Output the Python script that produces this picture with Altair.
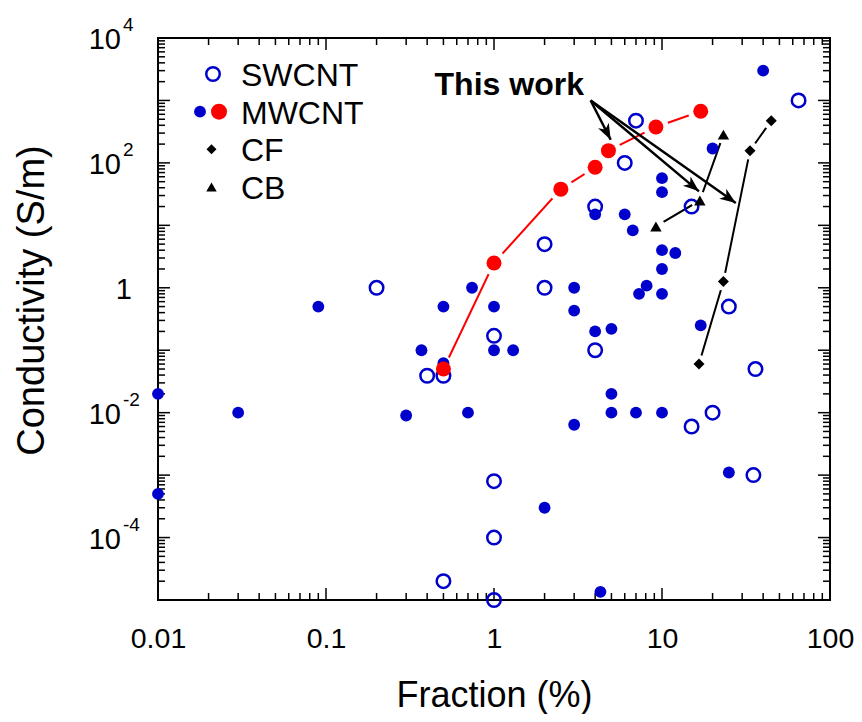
import math
import altair as alt
import pandas as pd

FONT = "Liberation Sans"
BLUE = "#0000cc"
RED = "#ff0000"

# ---------------- data ----------------
sw_x = [0.2, 0.4, 0.5, 1.0, 1.0, 1.0, 0.5, 1.0, 2.0, 2.0, 4.0, 4.0, 6.0, 7.0,
        15.0, 15.0, 20.0, 25.0, 35.0, 36.0, 65.0]
sw_y = [1.0, 0.039, 0.039, 0.17, 8e-4, 1e-4, 2e-5, 1e-5, 5.0, 1.0, 20.0, 0.1,
        100.0, 475.0, 20.0, 0.006, 0.01, 0.5, 0.001, 0.05, 1000.0]

mw_x = [0.01, 0.01, 0.03, 0.09, 0.3, 0.37, 0.5, 0.5, 0.7, 0.74, 1.0, 1.0, 1.3,
        2.0, 3.0, 3.0, 3.0, 4.0, 4.0, 4.3, 5.0, 5.0, 5.0, 6.0, 6.7, 7.0, 7.3,
        8.1, 10.0, 10.0, 10.0, 10.0, 10.0, 10.0, 12.0, 17.0, 20.0, 25.0, 40.0]
mw_y = [0.02, 5e-4, 0.01, 0.5, 0.009, 0.1, 0.5, 0.062, 0.01, 1.0, 0.5, 0.1, 0.1,
        3e-4, 1.0, 0.43, 0.0064, 15.0, 0.2, 1.35e-5, 0.22, 0.02, 0.01, 15.0, 8.3,
        0.01, 0.8, 1.08, 57.0, 34.0, 4.0, 2.0, 0.8, 0.01, 3.6, 0.25, 170.0,
        0.0011, 3000.0]

tw_x = [0.5, 1.0, 2.5, 4.0, 4.8, 9.2, 17.0]
tw_y = [0.05, 2.5, 38.0, 85.0, 157.0, 376.0, 670.0]

cf_x = [16.6, 23.2, 33.4, 44.7]
cf_y = [0.06, 1.26, 157.0, 475.0]

cb_x = [9.2, 16.8, 23.2]
cb_y = [9.6, 25.0, 283.0]

note_text = "This work"
note_x = 3.43
note_y = 1240.0
arrow_from_x = 3.76
arrow_from_y = 1000.0
arrow_to_x = [4.95, 16.6, 27.5]
arrow_to_y = [235.0, 35.0, 22.8]

legend_labels = ["SWCNT", "MWCNT", "CF", "CB"]
x_tick_labels = [0.01, 0.1, 1, 10, 100]
y_label_exps = [4, 2, -2, -4]
y_label_sups = ["4", "2", "-2", "-4"]

# ---------------- layout ----------------
W, H = 672, 562
XDEC, YDEC = 4, 9

xs = alt.Scale(type="log", domain=[0.01, 100], nice=False)
ys = alt.Scale(type="log", domain=[1e-5, 1e4], nice=False)
lys = alt.Scale(type="point", domain=legend_labels, range=[36, 149], padding=0)

xaxis = alt.Axis(values=x_tick_labels, format="~g", title="Fraction (%)",
                 domain=False, ticks=False, tickSize=0, grid=False,
                 labelPadding=24, labelFontSize=28.5, labelFont=FONT,
                 labelColor="black", labelFlush=False, labelOverlap=False,
                 titleFontSize=36, titleFont=FONT, titleFontWeight="normal",
                 titleColor="black", titleY=106, titleBaseline="alphabetic")

yaxis_title = alt.Axis(title="Conductivity  (S/m)", labels=False, ticks=False,
                       domain=False, grid=False, titleFontSize=38, titleFont=FONT,
                       titleFontWeight="normal", titleColor="black",
                       titleAngle=270, titleX=-115, titleY=262,
                       titleBaseline="alphabetic", titleAlign="center")


def X(f="x"):
    return alt.X(f"{f}:Q", scale=xs, axis=xaxis)


def Y(f="y", axis=None):
    return alt.Y(f"{f}:Q", scale=ys, axis=axis)


def df(xv, yv):
    return pd.DataFrame({"x": xv, "y": yv})


layers = []

# minor / major ticks on all four sides, pointing inward
xmaj = [10.0 ** k for k in range(-2, 3)]
xmin = [m * 10.0 ** k for k in range(-2, 2) for m in range(2, 10)]
ymaj = [10.0 ** k for k in range(-5, 5)]
ymin = [m * 10.0 ** k for k in range(-5, 4) for m in range(2, 10)]
for vals, L in ((xmaj, 12), (xmin, 7)):
    d = pd.DataFrame({"x": vals})
    base = alt.Chart(d).mark_rule(color="black", strokeWidth=1.5)
    layers.append(base.encode(x=X(), y=alt.value(H), y2=alt.value(H - L)))
    layers.append(base.encode(x=X(), y=alt.value(0), y2=alt.value(L)))
for vals, L in ((ymaj, 12), (ymin, 7)):
    d = pd.DataFrame({"y": vals})
    base = alt.Chart(d).mark_rule(color="black", strokeWidth=1.5)
    layers.append(base.encode(y=Y(), x=alt.value(0), x2=alt.value(L)))
    layers.append(base.encode(y=Y(), x=alt.value(W), x2=alt.value(W - L)))

# connecting lines
layers.append(alt.Chart(df(tw_x, tw_y)).mark_line(color=RED, strokeWidth=2)
              .encode(x=X(), y=Y()))
layers.append(alt.Chart(df(cf_x, cf_y)).mark_line(color="black", strokeWidth=2)
              .encode(x=X(), y=Y()))
layers.append(alt.Chart(df(cb_x, cb_y)).mark_line(color="black", strokeWidth=2)
              .encode(x=X(), y=Y()))

# white halos that break the lines near the markers
layers.append(alt.Chart(df(tw_x, tw_y)).mark_circle(color="white", size=640, opacity=1)
              .encode(x=X(), y=Y()))
layers.append(alt.Chart(df(cf_x + cb_x, cf_y + cb_y)).mark_circle(color="white", size=330, opacity=1)
              .encode(x=X(), y=Y()))

# literature data
layers.append(alt.Chart(df(mw_x, mw_y)).mark_circle(color=BLUE, size=140, opacity=1)
              .encode(x=X(), y=Y()))
layers.append(alt.Chart(df(sw_x, sw_y)).mark_point(shape="circle", filled=False, size=182,
                                                   strokeWidth=2.5, color=BLUE, opacity=1)
              .encode(x=X(), y=Y(axis=yaxis_title)))

# this work
layers.append(alt.Chart(df(tw_x, tw_y)).mark_circle(color=RED, size=225, opacity=1)
              .encode(x=X(), y=Y()))
layers.append(alt.Chart(df(cf_x, cf_y)).mark_point(shape="diamond", filled=True, size=121,
                                                   color="black", opacity=1)
              .encode(x=X(), y=Y()))
layers.append(alt.Chart(df(cb_x, cb_y)).mark_point(shape="triangle-up", filled=True, size=130,
                                                   color="black", opacity=1)
              .encode(x=X(), y=Y()))


# arrows
def screen_angle(x1, y1, x2, y2):
    dx = (math.log10(x2) - math.log10(x1)) * W / XDEC
    dy = -(math.log10(y2) - math.log10(y1)) * H / YDEC
    return math.degrees(math.atan2(dx, -dy)) % 360


arr = pd.DataFrame({
    "x": [arrow_from_x] * len(arrow_to_x),
    "y": [arrow_from_y] * len(arrow_to_x),
    "x2": arrow_to_x,
    "y2": arrow_to_y,
})
arr["ang"] = [screen_angle(a, b, c, d) for a, b, c, d in
              zip(arr["x"], arr["y"], arr["x2"], arr["y2"])]
layers.append(alt.Chart(arr).mark_rule(color="black", strokeWidth=2.5)
              .encode(x=X(), y=Y(), x2="x2:Q", y2="y2:Q"))
ARROW = "M0,0L0.75,2L0,1.45L-0.75,2Z"
layers.append(alt.Chart(arr).mark_point(shape=ARROW, filled=True, size=256,
                                        color="black", opacity=1)
              .encode(x=X("x2"), y=Y("y2"), angle=alt.Angle("ang:Q", scale=None)))

layers.append(alt.Chart(pd.DataFrame({"x": [note_x], "y": [note_y], "t": [note_text]}))
              .mark_text(align="right", baseline="alphabetic", fontSize=32,
                         fontWeight="bold", font=FONT, color="black")
              .encode(x=X(), y=Y(), text="t:N"))

# y tick labels with superscripts
ylab = pd.DataFrame({"y": [10.0 ** e for e in y_label_exps], "sup": y_label_sups})
layers.append(alt.Chart(ylab).mark_text(align="right", baseline="middle", fontSize=29,
                                        font=FONT, color="black", dy=2)
              .encode(x=alt.value(-37), y=Y(), text=alt.value("10")))
layers.append(alt.Chart(ylab).mark_text(align="left", baseline="middle", fontSize=19,
                                        font=FONT, color="black", dy=-13)
              .encode(x=alt.value(-35), y=Y(), text="sup:N"))
layers.append(alt.Chart(pd.DataFrame({"y": [1.0]})).mark_text(align="right", baseline="middle",
                                                            fontSize=29, font=FONT,
                                                            color="black", dy=2)
              .encode(x=alt.value(-26), y=Y(), text=alt.value("1")))

# legend
leg = pd.DataFrame({"label": legend_labels})
LY = alt.Y("label:N", scale=lys, axis=None)
layers.append(alt.Chart(leg).mark_text(align="left", baseline="middle", fontSize=32,
                                       font=FONT, color="black", dy=2)
              .encode(x=alt.value(83), y=LY, text="label:N"))
layers.append(alt.Chart(leg).transform_filter(alt.datum.label == "SWCNT")
              .mark_point(shape="circle", filled=False, size=182, strokeWidth=2.5,
                          color=BLUE, opacity=1)
              .encode(x=alt.value(55), y=LY))
layers.append(alt.Chart(leg).transform_filter(alt.datum.label == "MWCNT")
              .mark_circle(color=BLUE, size=140, opacity=1)
              .encode(x=alt.value(42), y=LY))
layers.append(alt.Chart(leg).transform_filter(alt.datum.label == "MWCNT")
              .mark_circle(color=RED, size=256, opacity=1)
              .encode(x=alt.value(61), y=LY))
layers.append(alt.Chart(leg).transform_filter(alt.datum.label == "CF")
              .mark_point(shape="diamond", filled=True, size=100, color="black", opacity=1)
              .encode(x=alt.value(53.5), y=LY))
layers.append(alt.Chart(leg).transform_filter(alt.datum.label == "CB")
              .mark_point(shape="triangle-up", filled=True, size=110, color="black", opacity=1)
              .encode(x=alt.value(53.5), y=LY))

chart = (
    alt.layer(*layers)
    .resolve_scale(y="independent")
    .properties(width=W, height=H, autosize=alt.AutoSizeParams(type="none"),
                padding={"left": 150, "top": 30, "right": 24, "bottom": 114},
                background="white")
    .configure_view(stroke="black", strokeWidth=2)
)

chart.save("out.html", embed_options={"renderer": "svg", "actions": False})
